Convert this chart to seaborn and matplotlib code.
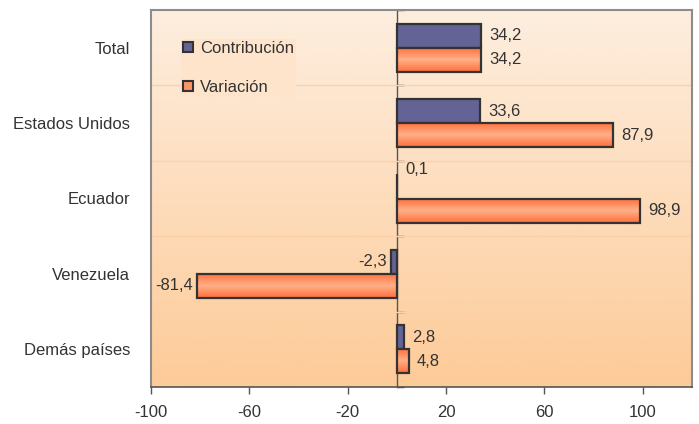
import numpy as np
import pandas as pd
import matplotlib
matplotlib.use("Agg")
import matplotlib.pyplot as plt
import seaborn as sns
from matplotlib.colors import LinearSegmentedColormap

categories = ["Total", "Estados Unidos", "Ecuador", "Venezuela", "Demás países"]
contribucion = [34.2, 33.6, 0.1, -2.3, 2.8]
variacion = [34.2, 87.9, 98.9, -81.4, 4.8]
series = ["Contribución", "Variación"]
xticks = [-100, -60, -20, 20, 60, 100]

df = pd.DataFrame({
    "pais": categories * 2,
    "serie": [series[0]] * len(categories) + [series[1]] * len(categories),
    "valor": contribucion + variacion,
})

sns.set_theme(style="white")
plt.rcParams['font.family'] = ['Liberation Sans', 'DejaVu Sans']

fig = plt.figure(figsize=(6.99, 4.24), dpi=100)
ax = fig.add_axes([151/699, 1 - 387/424, (692-151)/699, (387-10)/424])

# gradient background
bg = LinearSegmentedColormap.from_list("bg", ["#fdeedf", "#fdcb98"])
ax.imshow(np.linspace(0, 1, 256).reshape(-1, 1), cmap=bg, aspect="auto",
          extent=[0, 1, 0, 1], transform=ax.transAxes, zorder=0)

palette = {"Contribución": "#636395", "Variación": "#fd9466"}
sns.barplot(data=df, y="pais", x="valor", hue="serie", orient="h",
            palette=palette, width=0.64, ax=ax, saturation=1,
            edgecolor="#333333", linewidth=1.6, zorder=3, legend=True)

ax.set_xlim(-100, 120)
ax.set_ylim(len(categories) - 0.5, -0.5)

# orange gradient fill inside the Variación bars
barcm = LinearSegmentedColormap.from_list("bar", ["#ff6e3a", "#ffb088", "#ff6e3a"])
grad = np.linspace(0, 1, 64).reshape(-1, 1)
for p in ax.containers[1].patches:
    x0, y0 = p.get_x(), p.get_y()
    w, h = p.get_width(), p.get_height()
    im = ax.imshow(grad, cmap=barcm, aspect="auto",
                   extent=[min(x0, x0 + w), max(x0, x0 + w), y0 + h, y0],
                   zorder=3.5, interpolation="bilinear")
    im.set_clip_path(p)
    p.set_zorder(4)
    p.set_facecolor("none")

ax.set_xlim(-100, 120)
ax.set_ylim(len(categories) - 0.5, -0.5)
ax.set_xticks(xticks)
ax.set_xticklabels([str(t) for t in xticks])
ax.set_xlabel("")
ax.set_ylabel("")

# horizontal gridlines between categories
for b in np.arange(0.5, len(categories) - 0.5, 1):
    ax.axhline(b, color="#fcd0a8", lw=1, zorder=1)

# value labels
for cont in ax.containers:
    for p, v in zip(cont.patches, cont.datavalues):
        txt = f"{v:.1f}".replace(".", ",")
        yc = p.get_y() + p.get_height() / 2
        xe = p.get_x() + p.get_width()
        dy = 12 if abs(v) < 1 else 0
        ax.annotate(txt, (xe, yc), xytext=(6 if v >= 0 else -3, dy),
                    textcoords="offset points", ha="left" if v >= 0 else "right",
                    va="center", fontsize=12, color="#333333", zorder=6)

# zero axis with ticks at category boundaries
sec = ax.secondary_yaxis(100/220)
sec.set_yticks(np.arange(-0.5, len(categories), 1))
sec.set_yticklabels([])
sec.tick_params(direction="in", length=5, width=1, color="#444444")
sec.spines["left"].set_color("#555555")
sec.spines["left"].set_linewidth(1)

for s in ["top", "right", "left"]:
    ax.spines[s].set_color("#8c8c8c")
    ax.spines[s].set_linewidth(1.5)
ax.spines["bottom"].set_color("#555555")
ax.spines["bottom"].set_linewidth(1.2)

ax.tick_params(axis="y", length=0, labelsize=12, labelcolor="#333333", pad=15)
ax.tick_params(axis="x", bottom=True, length=5, width=1, color="#555555",
               labelsize=12, labelcolor="#333333", pad=8)

leg = ax.legend(loc="upper left", bbox_to_anchor=(0.04, 0.945), frameon=True,
                fontsize=12, handlelength=0.6, handleheight=0.6,
                labelspacing=1.45, handletextpad=0.45, borderpad=0.1)
leg.get_frame().set_facecolor("#fde4cb")
leg.get_frame().set_edgecolor("none")
leg.get_frame().set_alpha(1)
for t in leg.get_texts():
    t.set_color("#333333")
for h in leg.legend_handles:
    h.set_edgecolor("#333333")
    h.set_linewidth(1.5)

fig.savefig("out.png", dpi=100)
